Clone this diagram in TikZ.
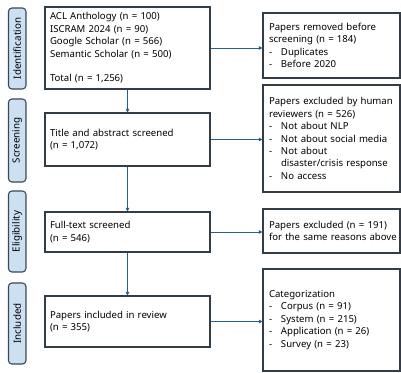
\documentclass[tikz,border=0pt]{standalone}
\usepackage{fontspec}
\setmainfont{Noto Sans}
\usetikzlibrary{arrows.meta}
\definecolor{arrowc}{HTML}{21618A}
\definecolor{boxc}{HTML}{333D47}
\definecolor{sidefill}{HTML}{CCE0F2}
\definecolor{sidec}{HTML}{3A4856}
\newcommand{\itm}[1]{\makebox[12pt][l]{-}\mbox{#1}}
\tikzset{
  mainbox/.style={draw=boxc, line width=1.1pt, rectangle, inner xsep=5pt, inner ysep=0pt,
    align=left, font=\fontsize{9.6}{12.4}\selectfont, anchor=center},
  sidebox/.style={draw=sidec, fill=sidefill, line width=1.1pt, rounded corners=3.5pt,
    minimum width=81pt, minimum height=17.5pt, rotate=90, inner sep=0pt,
    font=\fontsize{9.8}{10}\selectfont},
  flow/.style={draw=arrowc, line width=0.9pt, -{Triangle[length=3.5pt,width=3.5pt]}}
}
\begin{document}
\begin{tikzpicture}[x=1pt,y=-1pt]
\useasboundingbox (0,0) rectangle (401,372);
% side labels
\node[sidebox] (s1) at (17.2,48.5) {Identification};
\node[sidebox, minimum width=83pt] (s2) at (17.2,140.5) {Screening};
\node[sidebox] (s3) at (17.2,231.5) {Eligibility};
\node[sidebox] (s4) at (17.2,323.5) {Included};
% main boxes
\node[mainbox, minimum width=165pt, minimum height=82pt, text width=155pt] (b1) at (127.5,48)
  {ACL Anthology (n = 100)\\ISCRAM 2024 (n = 90)\\Google Scholar (n = 566)\\Semantic Scholar (n = 500)\\[12.4pt]Total (n = 1,256)};
\node[mainbox, minimum width=165pt, minimum height=53pt, text width=155pt] (b2) at (127.5,139.5)
  {Title and abstract screened\\(n = 1,072)};
\node[mainbox, minimum width=165pt, minimum height=40pt, text width=155pt] (b3) at (127.5,232)
  {Full-text screened\\(n = 546)};
\node[mainbox, minimum width=165pt, minimum height=51pt, text width=155pt] (b4) at (127.5,321.5)
  {Papers included in review\\(n = 355)};
% right boxes
\node[mainbox, inner xsep=6pt, minimum width=137pt, minimum height=65pt, text width=125pt] (r1) at (331.5,45.5)
  {Papers removed before\\screening (n = 184)\\\itm{Duplicates}\\\itm{Before 2020}};
\node[mainbox, inner xsep=6pt, minimum width=137pt, minimum height=107pt, text width=125pt] (r2) at (331.5,138.5)
  {\mbox{Papers excluded by human}\\reviewers (n = 526)\\\itm{Not about NLP}\\\itm{Not about social media}\\\itm{Not about}\\\hspace*{12pt}\mbox{disaster/crisis response}\\\itm{No access}\\[4pt]};
\node[mainbox, inner xsep=6pt, minimum width=137pt, minimum height=44pt, text width=125pt] (r3) at (331.5,231)
  {\mbox{Papers excluded (n = 191)}\\\mbox{for the same reasons above}};
\node[mainbox, inner xsep=6pt, minimum width=137pt, minimum height=102pt, text width=125pt] (r4) at (331.5,320)
  {Categorization\\\itm{Corpus (n = 91)}\\\itm{System (n = 215)}\\\itm{Application (n = 26)}\\\itm{Survey (n = 23)}};
% connectors
\draw[flow] (b1.south) -- (b2.north);
\draw[flow] (b2.south) -- (b3.north);
\draw[flow] (b3.south) -- (b4.north);
\draw[flow] (b1.east) -- (b1.east -| r1.west);
\draw[flow] (b2.east) -- (b2.east -| r2.west);
\draw[flow] (b3.east) -- (b3.east -| r3.west);
\draw[flow] (b4.east) -- (b4.east -| r4.west);
\end{tikzpicture}
\end{document}
